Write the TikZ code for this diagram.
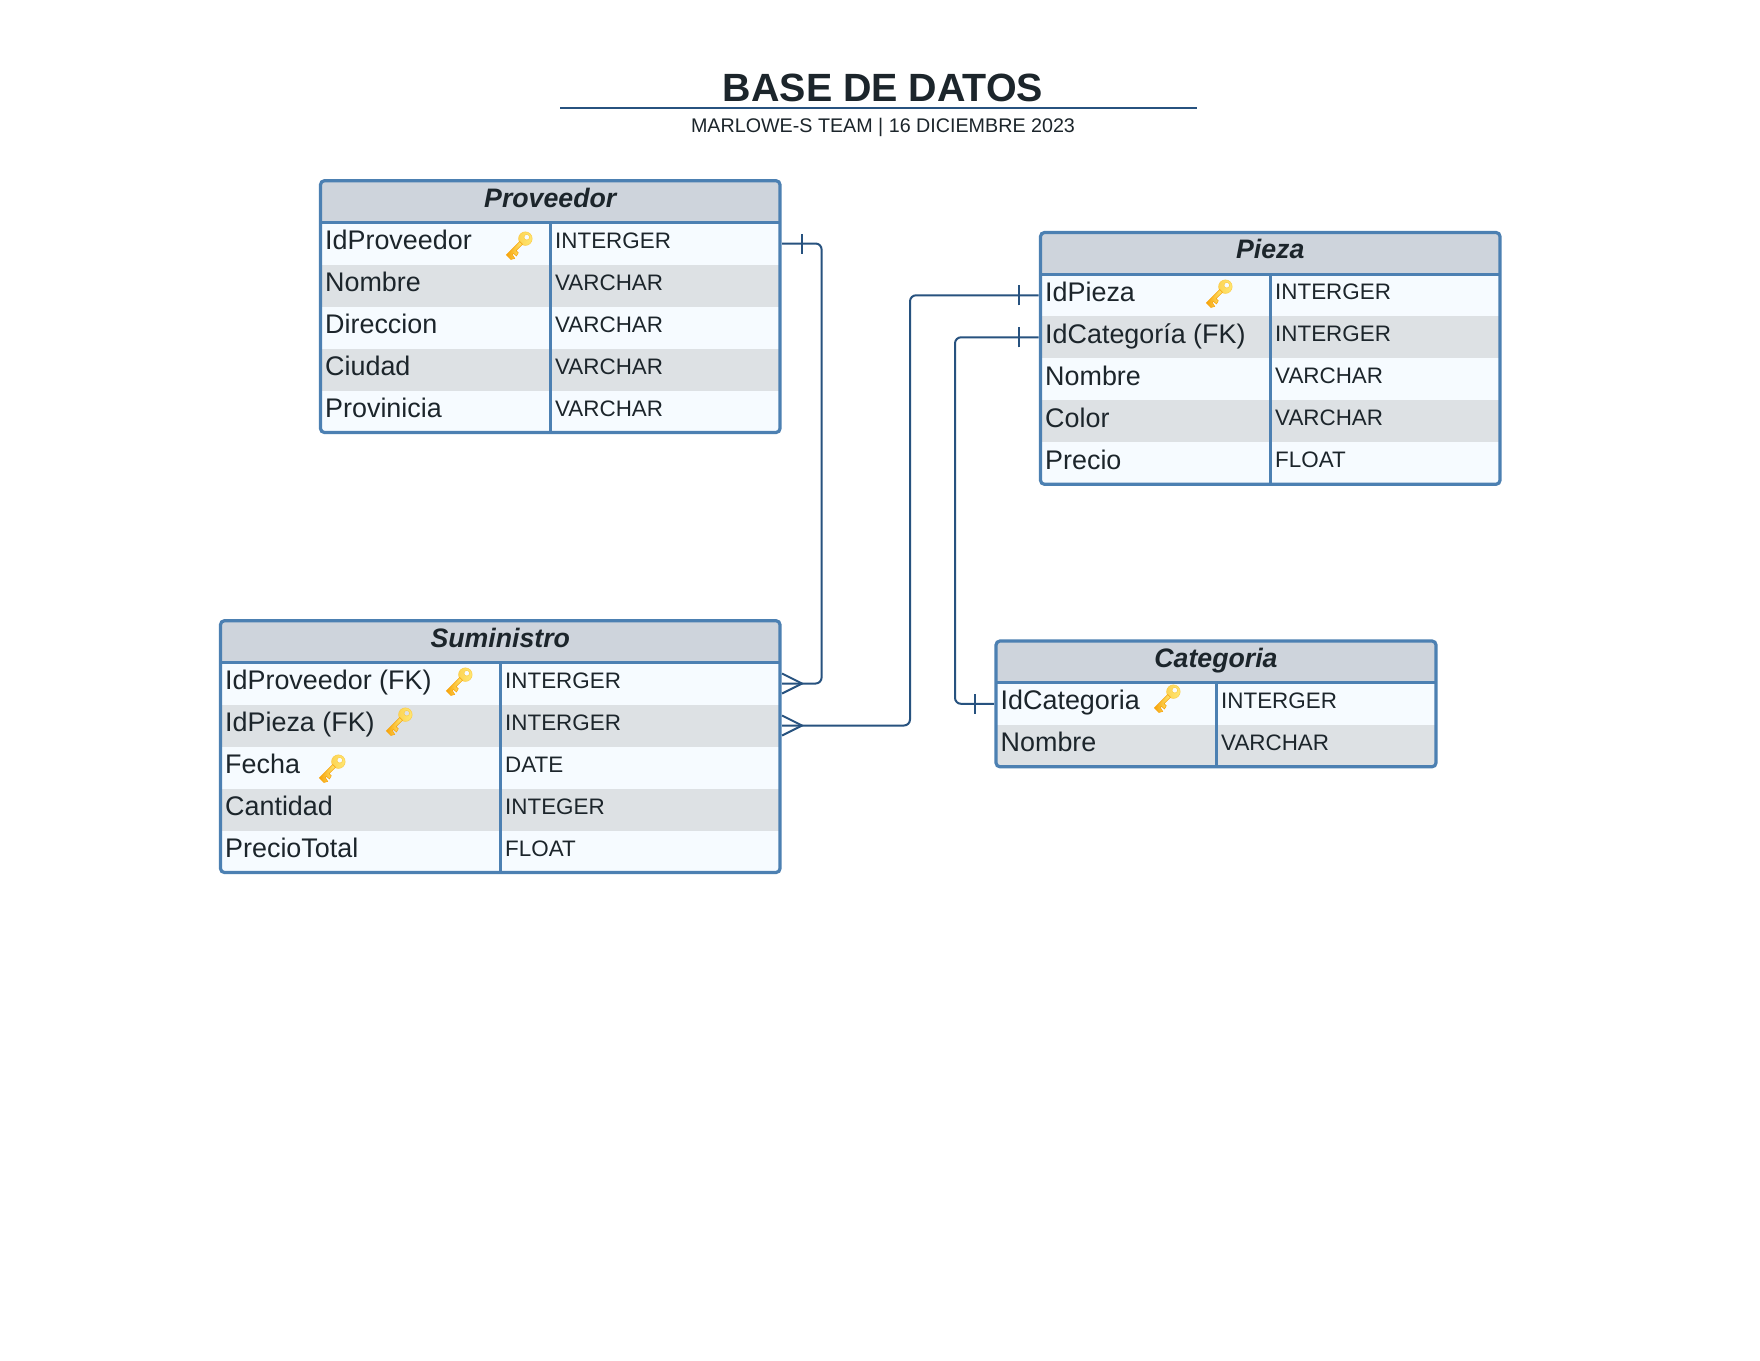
\documentclass[tikz,border=0pt]{standalone}
\usepackage{fontspec}
\setmainfont{Liberation Sans}
\usetikzlibrary{positioning}

\definecolor{inkColour}{HTML}{1C252B}
\definecolor{lineColour}{HTML}{27527F}
\definecolor{frameColour}{HTML}{4C80B2}
\definecolor{headColour}{HTML}{CED4DC}
\definecolor{lightColour}{HTML}{F6FBFF}
\definecolor{darkColour}{HTML}{DDE1E4}
\definecolor{goldLight}{HTML}{FFE873}
\definecolor{goldDark}{HTML}{F7A30A}

%% One table: name, left, top, divider, right, title, number of rows, rows.
\newcommand{\tableBox}[8]{%
  \pgfmathsetmacro{\tableBottom}{#3+41.8+42*#7}
  \pgfmathsetmacro{\rowTop}{#3+41.8}
  \begin{scope}
    \clip[rounded corners=4] (#2,#3) rectangle (#5,\tableBottom);
    \fill[headColour] (#2,#3) rectangle (#5,\rowTop);
    \foreach \rowName/\rowType [count=\rowIdx] in {#8} {
      \pgfmathsetmacro{\rowMid}{\rowTop+42*\rowIdx-21}
      \ifodd\rowIdx\def\rowFill{lightColour}\else\def\rowFill{darkColour}\fi
      \node[rowStyle,fill=\rowFill,minimum width=#5-#2] (#1R\rowIdx)
        at ({(#2+#5)/2},\rowMid) {};
      \node[nameStyle] (#1N\rowIdx) at (#2+4.5,\rowMid+5.7) {\rowName};
      \node[typeStyle] (#1T\rowIdx) at (#4+4.5,\rowMid+4.5) {\rowType};
    }
  \end{scope}
  \node[headStyle] (#1Head) at ({(#2+#5)/2},#3+26.3) {#6};
  \draw[frameStyle] (#2,\rowTop) -- (#5,\rowTop);
  \draw[frameStyle] (#4,\rowTop) -- (#4,\tableBottom);
  \draw[frameStyle,rounded corners=4] (#2,#3) rectangle (#5,\tableBottom);
}

\begin{document}
\begin{tikzpicture}[%%
  x=1pt,y=-1pt,
  lineStyle/.style={-,line width=2pt,lineColour,rounded corners=6},
  markStyle/.style={-,line width=2pt,lineColour},
  frameStyle/.style={line width=3.2pt,frameColour},
  rowStyle/.style={inner sep=0pt,outer sep=0pt,minimum height=42pt},
  nameStyle/.style={anchor=base west,inner sep=0pt,inkColour,font=\fontsize{26.9}{26.9}\selectfont},
  typeStyle/.style={anchor=base west,inner sep=0pt,inkColour,font=\fontsize{22.4}{22.4}\selectfont},
  headStyle/.style={anchor=base,inner sep=0pt,inkColour,font=\fontsize{26.7}{26.7}\selectfont\bfseries\itshape},
  keyIcon/.pic={
    \begin{scope}[rotate=45]
      \path[left color=goldLight!70!goldDark,right color=goldLight,draw=goldLight!60!goldDark,line width=0.5pt,even odd rule]
        (9,0) circle[radius=6.8] (11,0) circle[radius=2.8];
      \path[left color=goldDark,right color=goldLight,draw=goldDark,line width=0.5pt]
        (3,-1.9) -- (-16,-1.9) -- (-16,4.5) -- (-12.5,6.5) -- (-11.5,1.9) -- (-10,1.9)
        -- (-9.5,6) -- (-6,5) -- (-6,1.9) -- (3,1.9) -- cycle;
    \end{scope}
  }
]
%%
\useasboundingbox (0,0) rectangle (1760,1360);
\fill[white] (0,0) rectangle (1760,1360);
%%
%% The title and the rule under it.
%%
\node[anchor=base,inner sep=0pt,inkColour,font=\fontsize{39.4}{39.4}\selectfont\bfseries] (titleText)
  at (883,101.5) {BASE DE DATOS};
\node[anchor=base,inner sep=0pt,inkColour,font=\fontsize{19.7}{19.7}\selectfont] (subtitleT)
  at (883,132) {MARLOWE-S TEAM | 16 DICIEMBRE 2023};
\coordinate (ruleLeft) at (560,108);
\coordinate (ruleRight) at (1196.5,108);
\draw[markStyle] (ruleLeft) -- (ruleRight);
%%
%% The four tables.
%%
\tableBox{proveedor}{320.5}{180.7}{550.5}{780}{Proveedor}{5}{IdProveedor/INTERGER,Nombre/VARCHAR,Direccion/VARCHAR,Ciudad/VARCHAR,Provinicia/VARCHAR}
\tableBox{pieza}{1040.5}{232.5}{1270.5}{1500}{Pieza}{5}{IdPieza/INTERGER,IdCategoría (FK)/INTERGER,Nombre/VARCHAR,Color/VARCHAR,Precio/FLOAT}
\tableBox{suministro}{220.5}{620.7}{500.5}{780}{Suministro}{5}{IdProveedor (FK)/INTERGER,IdPieza (FK)/INTERGER,Fecha/DATE,Cantidad/INTEGER,PrecioTotal/FLOAT}
\tableBox{categoria}{996}{641}{1216.5}{1436}{Categoria}{2}{IdCategoria/INTERGER,Nombre/VARCHAR}
%%
%% The keys.
%%
\pic (keyA) at (519,245) {keyIcon};
\pic (keyB) at (459,681) {keyIcon};
\pic (keyC) at (399,721) {keyIcon};
\pic (keyD) at (332,768) {keyIcon};
\pic (keyE) at (1219,293) {keyIcon};
\pic (keyF) at (1167,698) {keyIcon};
%%
%% The connectors.
%%
\coordinate (busA) at (821.6,450);
\coordinate (busB) at (910,500);
\coordinate (busC) at (955,500);
\draw[lineStyle] ([xshift=2]proveedorR1.east) -| (busA) |- ([xshift=22]suministroR1.east) -- ([xshift=2]suministroR1.east);
\draw[lineStyle] ([xshift=2]suministroR2.east) -| (busB) |- ([xshift=-2]piezaR1.west);
\draw[lineStyle] ([xshift=-2]piezaR2.west) -| (busC) |- ([xshift=-2]categoriaR1.west);
%% One-side bars.
\draw[markStyle] ([xshift=22,yshift=-10]proveedorR1.east) -- ([xshift=22,yshift=10]proveedorR1.east);
\draw[markStyle] ([xshift=-22,yshift=-10]piezaR1.west) -- ([xshift=-22,yshift=10]piezaR1.west);
\draw[markStyle] ([xshift=-22,yshift=-10]piezaR2.west) -- ([xshift=-22,yshift=10]piezaR2.west);
\draw[markStyle] ([xshift=-21,yshift=-10]categoriaR1.west) -- ([xshift=-21,yshift=10]categoriaR1.west);
%% Many-side crow feet.
\draw[markStyle] ([xshift=2,yshift=-10]suministroR1.east) -- ([xshift=22]suministroR1.east) -- ([xshift=2,yshift=10]suministroR1.east);
\draw[markStyle] ([xshift=2,yshift=-10]suministroR2.east) -- ([xshift=22]suministroR2.east) -- ([xshift=2,yshift=10]suministroR2.east);
\end{tikzpicture}
\end{document}
